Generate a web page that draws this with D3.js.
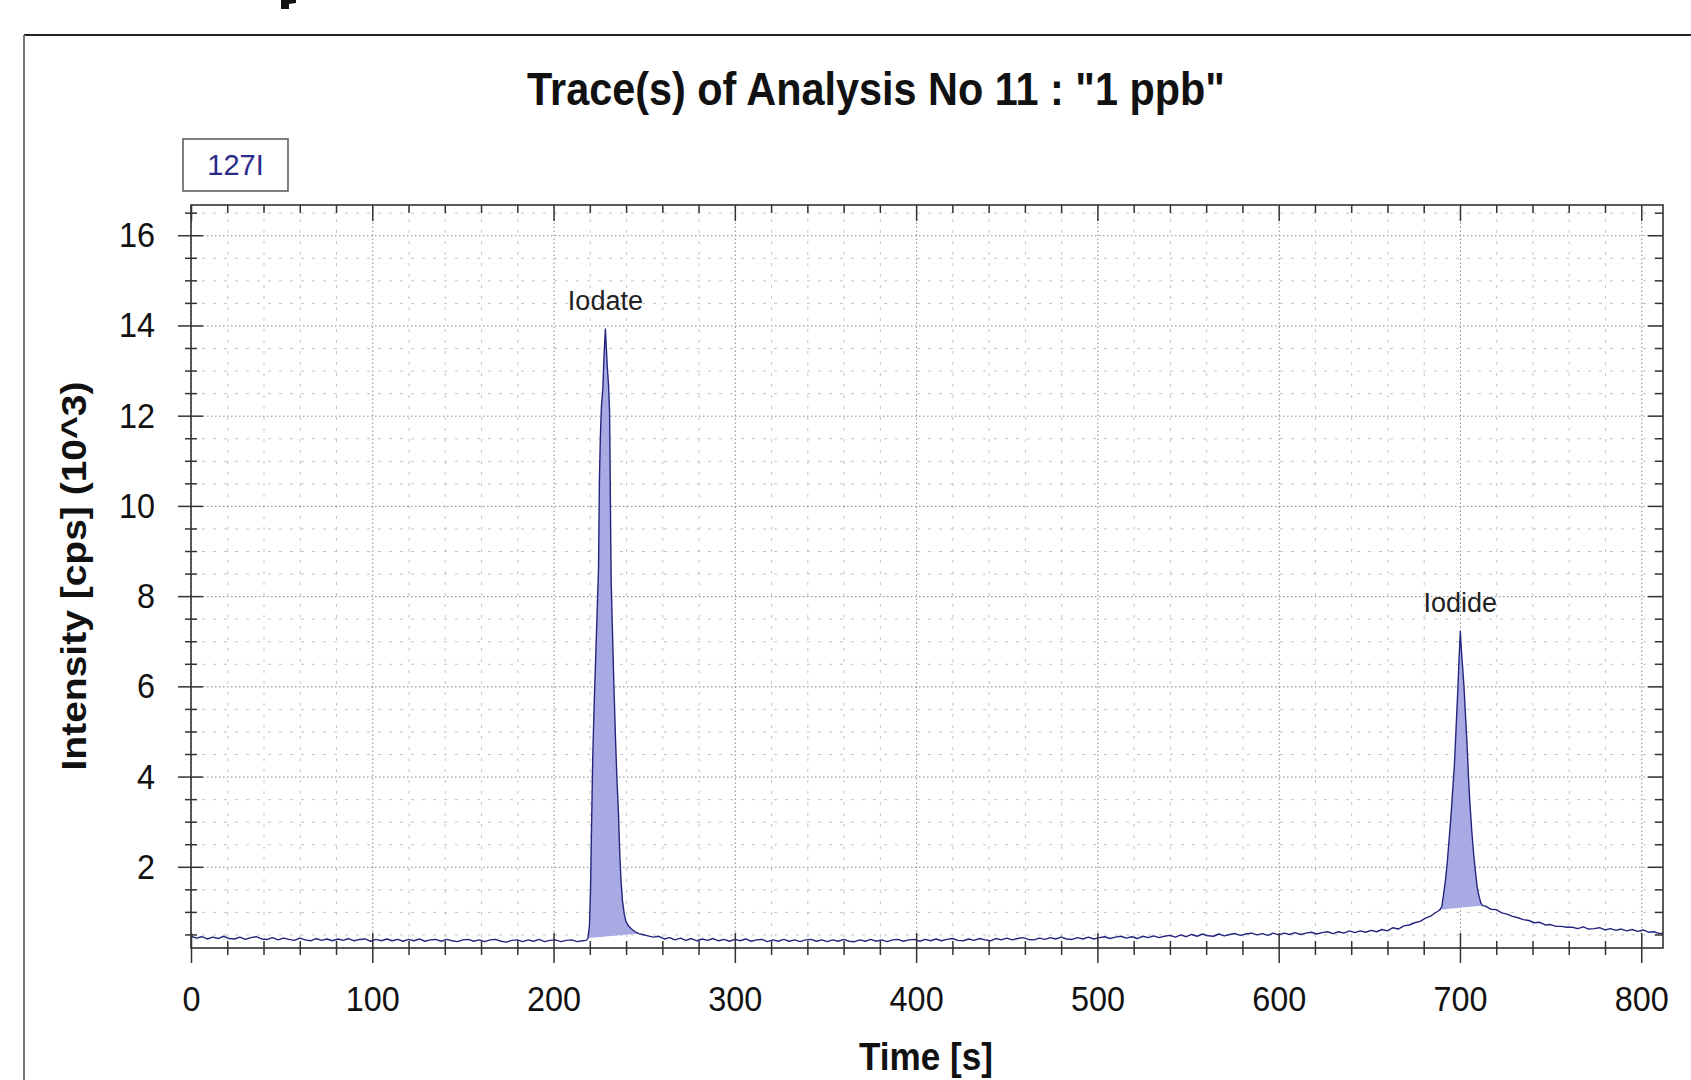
<!DOCTYPE html>
<html><head><meta charset="utf-8">
<script src="https://cdn.jsdelivr.net/npm/d3@7"></script>
<style>
html,body{margin:0;padding:0;background:#fff;overflow:hidden}
svg{display:block}
text{font-family:"Liberation Sans",Arial,sans-serif}
</style></head><body>
<svg id="chart" width="1691" height="1080"></svg>
<script>
// ---------- data (time [s], intensity [10^3 cps]) ----------
const segBefore = [[0,.46],[3,.42],[6,.45],[9,.40],[12,.44],[15,.41],[18,.46],[21,.41],[24,.40],[27,.44],[30,.39],[33,.43],[36,.45],[39,.40],[42,.39],[45,.43],[48,.38],[51,.42],[54,.39],[57,.37],[60,.42],[63,.38],[66,.36],[69,.41],[72,.37],[75,.40],[78,.36],[81,.40],[84,.37],[87,.41],[90,.36],[93,.39],[96,.40],[99,.35],[102,.39],[105,.36],[108,.40],[111,.36],[114,.39],[117,.35],[120,.39],[123,.36],[126,.40],[129,.35],[132,.38],[135,.39],[138,.35],[141,.39],[144,.36],[147,.34],[150,.38],[153,.39],[156,.35],[159,.38],[162,.34],[165,.38],[168,.39],[171,.35],[174,.33],[177,.37],[180,.38],[183,.34],[186,.38],[189,.35],[192,.39],[195,.34],[198,.37],[201,.38],[204,.34],[207,.37],[210,.38],[213,.34],[216,.36]];
const iodatePeak = [[218,.37],[219,.42],[219.8,.7],[220.4,1.5],[221,3.0],[221.6,4.4],[222.4,5.6],[223.2,6.6],[224,7.6],[224.8,8.6],[225.3,10.6],[225.8,11.5],[226.4,12.2],[227.2,12.6],[227.8,13.3],[228.3,13.7],[228.6,13.92],[229,13.6],[229.6,13.1],[230.3,12.7],[230.9,12.1],[231.2,10.8],[231.5,9.4],[231.8,8.3],[232.5,7.2],[233.3,6.0],[234.2,4.8],[235,3.9],[235.8,3.2],[236.5,2.3],[237.2,1.7],[238,1.25],[239,.95],[240,.78],[241.5,.68],[243,.62],[245,.56],[247,.52],[249,.50],[252,.47],[255,.44],[258,.46],[261,.40]];
const segMiddle = [[264,.43],[267,.38],[270,.42],[273,.37],[276,.41],[279,.36],[282,.40],[285,.37],[288,.41],[291,.36],[294,.39],[297,.35],[300,.39],[303,.36],[306,.40],[309,.35],[312,.38],[315,.39],[318,.34],[321,.38],[324,.35],[327,.39],[330,.35],[333,.38],[336,.34],[339,.38],[342,.39],[345,.35],[348,.38],[351,.34],[354,.38],[357,.35],[360,.39],[363,.35],[366,.34],[369,.38],[372,.35],[375,.39],[378,.35],[381,.38],[384,.34],[387,.38],[390,.39],[393,.35],[396,.38],[399,.39],[402,.35],[405,.39],[408,.36],[411,.40],[414,.36],[417,.39],[420,.41],[423,.37],[426,.36],[429,.40],[432,.37],[435,.41],[438,.38],[441,.36],[444,.41],[447,.38],[450,.42],[453,.38],[456,.41],[459,.43],[462,.39],[465,.38],[468,.42],[471,.39],[474,.43],[477,.40],[480,.44],[483,.40],[486,.39],[489,.43],[492,.40],[495,.44],[498,.40],[501,.43],[504,.45],[507,.41],[510,.44],[513,.46],[516,.42],[519,.45],[522,.41],[525,.46],[528,.43],[531,.47],[534,.43],[537,.46],[540,.48],[543,.44],[546,.49],[549,.45],[552,.50],[555,.46],[558,.51],[561,.47],[564,.46],[567,.51],[570,.47],[573,.50],[576,.52],[579,.48],[582,.51],[585,.53],[588,.49],[591,.52],[594,.48],[597,.53],[600,.49]];
const segRise = [[603,.53],[606,.50],[609,.54],[612,.50],[615,.53],[618,.55],[621,.51],[624,.54],[627,.56],[630,.52],[633,.56],[636,.53],[639,.58],[642,.54],[645,.58],[648,.55],[651,.59],[654,.56],[657,.61],[660,.58],[663,.65],[666,.62],[669,.69],[672,.71],[675,.76],[678,.79],[681,.86],[684,.91],[686,.97],[688,1.02]];
const iodidePeak = [[689,1.05],[690,1.12],[691,1.4],[692,1.7],[693,2.1],[694,2.6],[695,3.1],[696,3.7],[697,4.3],[698,5.2],[698.8,5.9],[699.5,6.6],[700.2,7.22],[700.8,6.8],[701.5,6.4],[702.2,6.0],[703,5.4],[703.8,4.8],[704.7,4.0],[705.5,3.4],[706.5,2.8],[707.5,2.3],[708.5,1.9],[709.5,1.55],[710.5,1.35],[711.5,1.2],[712.5,1.14]];
const segTail = [[714,1.13],[717,1.06],[720,1.05],[723,.98],[726,.95],[729,.90],[732,.87],[735,.83],[738,.81],[741,.76],[744,.77],[747,.71],[750,.72],[753,.68],[756,.68],[759,.66],[762,.66],[765,.63],[768,.67],[771,.62],[774,.63],[777,.65],[780,.60],[783,.63],[786,.59],[789,.62],[792,.58],[795,.61],[798,.57],[801,.60],[804,.55],[807,.56],[810,.52],[812,.53]];

const peakNames = ["Iodate", "Iodide"];
const peakStart = [219, 689];
const peakEnd = [247, 712.5];

const xMajorTicks = [0,100,200,300,400,500,600,700,800];
const yMajorTicks = [2,4,6,8,10,12,14,16];
const titleText = 'Trace(s) of Analysis No 11 : "1 ppb"';
const xLabel = "Time [s]";
const yLabel = "Intensity [cps] (10^3)";
const traceName = "127I";

// ---------- layout ----------
const trace = [].concat(segBefore, iodatePeak, segMiddle, segRise, iodidePeak, segTail);
const P = {left:191, right:1663, top:205, bottom:948};
const svg = d3.select("#chart");
const x = d3.scaleLinear().domain([0, 812]).range([P.left, P.right]);
const y = d3.scaleLinear().domain([0.2, 16.67]).range([P.bottom, P.top]);
const xMinor = d3.range(0, 813, 20).filter(v => v % 100 !== 0);
const yMinor = d3.range(0.5, 16.7, 0.5).filter(v => v % 2 !== 0);
const SQ = 0.9;

// small dark mark at the very top edge (cut-off fragment above the frame)
svg.append("path").attr("d","M281,0 L289,0 L289,9 L281,9 Z M289,0 L296,0 L296,3 L289,4 Z").attr("fill","#111");

// outer frame
svg.append("line").attr("x1",24).attr("x2",1691).attr("y1",35).attr("y2",35).attr("stroke","#222").attr("stroke-width",2);
svg.append("line").attr("x1",24).attr("x2",24).attr("y1",35).attr("y2",1080).attr("stroke","#777").attr("stroke-width",2);

// gridlines
function grid(axis, tr, color, dash){
  const g = svg.append("g").attr("transform", tr).call(axis);
  g.select(".domain").remove();
  g.selectAll("line").attr("stroke", color).attr("stroke-width",1).attr("stroke-dasharray", dash);
  g.selectAll("text").remove();
}
grid(d3.axisLeft(y).tickValues(yMinor).tickSize(-(P.right-P.left)).tickFormat(""), `translate(${P.left},0)`, "#c4c4c4", "3,8");
grid(d3.axisBottom(x).tickValues(xMinor).tickSize(-(P.bottom-P.top)).tickFormat(""), `translate(0,${P.bottom})`, "#c4c4c4", "3,8");
grid(d3.axisLeft(y).tickValues(yMajorTicks).tickSize(-(P.right-P.left)).tickFormat(""), `translate(${P.left},0)`, "#8a8a8a", "1.5,2.5");
grid(d3.axisBottom(x).tickValues(xMajorTicks).tickSize(-(P.bottom-P.top)).tickFormat(""), `translate(0,${P.bottom})`, "#8a8a8a", "1.5,2.5");

// trace
svg.append("clipPath").attr("id","plotclip").append("rect")
  .attr("x",P.left).attr("y",P.top).attr("width",P.right-P.left).attr("height",P.bottom-P.top);
const plot = svg.append("g").attr("clip-path","url(#plotclip)");

peakNames.forEach((name, i) => {
  const pts = trace.filter(d => d[0] >= peakStart[i] && d[0] <= peakEnd[i]);
  const a = pts[0], b = pts[pts.length-1];
  const base = t => a[1] + (b[1]-a[1]) * (t - a[0]) / (b[0]-a[0]);
  const area = d3.area().x(d => x(d[0])).y0(d => y(base(d[0]))).y1(d => y(d[1]));
  plot.append("path").datum(pts).attr("d", area).attr("fill","#a8abe3").attr("stroke","none");
});

plot.append("path").datum(trace)
  .attr("d", d3.line().x(d => x(d[0])).y(d => y(d[1])))
  .attr("fill","none").attr("stroke","#25257f").attr("stroke-width",1.4).attr("stroke-linejoin","round");

// peak labels
peakNames.forEach((name, i) => {
  const pts = trace.filter(d => d[0] >= peakStart[i] && d[0] <= peakEnd[i]);
  const top = pts.reduce((m, d) => d[1] > m[1] ? d : m, pts[0]);
  svg.append("text").attr("x", x(top[0])).attr("y", y(top[1]) - 19)
    .attr("text-anchor","middle").attr("font-size",27).attr("fill","#222").text(name);
});

// box
svg.append("rect").attr("x",P.left).attr("y",P.top).attr("width",P.right-P.left).attr("height",P.bottom-P.top)
  .attr("fill","none").attr("stroke","#333").attr("stroke-width",1.6);

// ticks
function ticks(axis, tr){
  const g = svg.append("g").attr("transform", tr).call(axis);
  g.select(".domain").remove();
  g.selectAll("line").attr("stroke","#333").attr("stroke-width",1.5);
  return g;
}
const noF = "";
// left
const gL = ticks(d3.axisLeft(y).tickValues(yMajorTicks).tickSize(13).tickPadding(23), `translate(${P.left},0)`);
gL.attr("font-size",36).attr("font-family","'Liberation Sans',Arial,sans-serif");
gL.selectAll("text").attr("fill","#111").attr("x", -36/SQ).attr("transform", `scale(${SQ},1)`);
ticks(d3.axisRight(y).tickValues(yMajorTicks).tickSize(12).tickFormat(noF), `translate(${P.left},0)`);
ticks(d3.axisLeft(y).tickValues(yMinor).tickSize(6).tickFormat(noF), `translate(${P.left},0)`);
ticks(d3.axisRight(y).tickValues(yMinor).tickSize(6).tickFormat(noF), `translate(${P.left},0)`);
// bottom
const gB = ticks(d3.axisBottom(x).tickValues(xMajorTicks).tickSize(15).tickPadding(22), `translate(0,${P.bottom})`);
gB.attr("font-size",36).attr("font-family","'Liberation Sans',Arial,sans-serif");
gB.selectAll("text").attr("fill","#111").attr("transform", `scale(${SQ},1)`);
ticks(d3.axisTop(x).tickValues(xMajorTicks).tickSize(15).tickFormat(noF), `translate(0,${P.bottom})`);
ticks(d3.axisBottom(x).tickValues(xMinor).tickSize(7).tickFormat(noF), `translate(0,${P.bottom})`);
ticks(d3.axisTop(x).tickValues(xMinor).tickSize(7).tickFormat(noF), `translate(0,${P.bottom})`);
// top (inward)
ticks(d3.axisBottom(x).tickValues(xMajorTicks).tickSize(16).tickFormat(noF), `translate(0,${P.top})`);
ticks(d3.axisBottom(x).tickValues(xMinor).tickSize(8).tickFormat(noF), `translate(0,${P.top})`);
// right (inward)
ticks(d3.axisLeft(y).tickValues(yMajorTicks).tickSize(15).tickFormat(noF), `translate(${P.right},0)`);
ticks(d3.axisLeft(y).tickValues(yMinor).tickSize(8).tickFormat(noF), `translate(${P.right},0)`);

// title & axis titles
svg.append("text").attr("transform", `translate(876,105) scale(${SQ},1)`)
  .attr("text-anchor","middle").attr("font-size",46).attr("font-weight","bold").attr("fill","#111").text(titleText);
svg.append("text").attr("transform", `translate(926,1070) scale(${SQ},1)`)
  .attr("text-anchor","middle").attr("font-size",39).attr("font-weight","bold").attr("fill","#111").text(xLabel);
svg.append("text").attr("transform", `translate(86,576) scale(${SQ},1) rotate(-90)`)
  .attr("text-anchor","middle").attr("font-size",39).attr("font-weight","bold").attr("fill","#111").text(yLabel);

// trace name box
svg.append("rect").attr("x",183).attr("y",139).attr("width",105).attr("height",52)
  .attr("fill","#fff").attr("stroke","#555").attr("stroke-width",1.5);
svg.append("text").attr("x",235.5).attr("y",175).attr("text-anchor","middle")
  .attr("font-size",29).attr("fill","#2b2b8a").text(traceName);
</script>
</body></html>
